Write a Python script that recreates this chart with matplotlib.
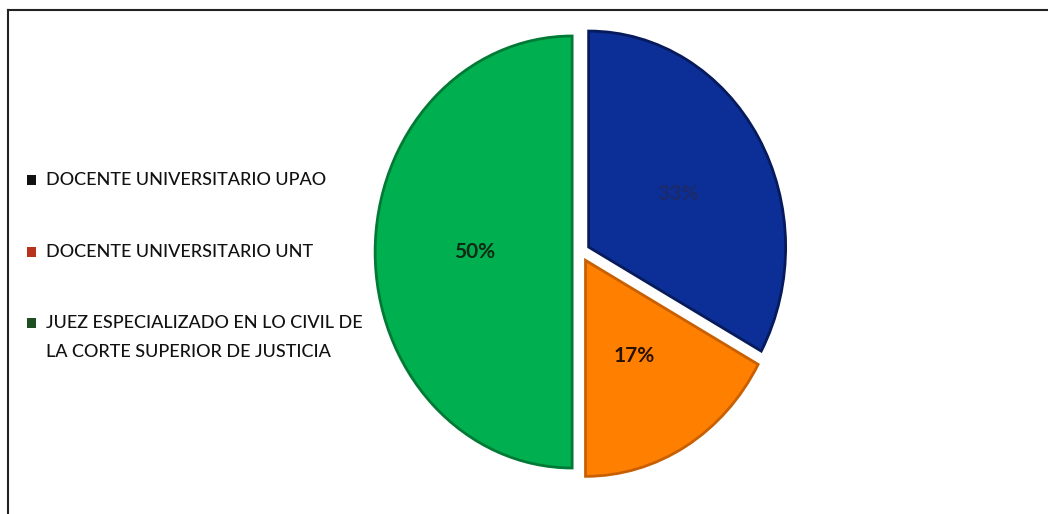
import matplotlib
matplotlib.use("Agg")
import matplotlib.pyplot as plt
from matplotlib.patches import Rectangle
from matplotlib.lines import Line2D

plt.rcParams['font.family'] = ['Lato', 'DejaVu Sans']

# data
labels = ["DOCENTE UNIVERSITARIO UPAO",
          "DOCENTE UNIVERSITARIO UNT",
          "JUEZ ESPECIALIZADO EN LO CIVIL DE\nLA CORTE SUPERIOR DE JUSTICIA"]
values = [33, 17, 50]
pct_labels = ["33%", "17%", "50%"]

slice_colors = ["#0b2f96", "#ff8000", "#00b050"]
edge_colors = ["#061a5c", "#c85f00", "#007a35"]
text_colors = ["#1c2a6a", "#2a1200", "#0f2a14"]
legend_colors = ["#111111", "#b8321c", "#1d4f23"]

W, H = 1048, 514
fig = plt.figure(figsize=(W / 100, H / 100), dpi=100)

# pie centre ~ (581, 262 from bottom), rx ~197 px, ry ~216 px
cx, cy, rx, ry = 581, 262, 197, 216
xl, yl = 1.2, 1.15
ax = fig.add_axes([(cx - xl * rx) / W, (cy - yl * ry) / H, 2 * xl * rx / W, 2 * yl * ry / H])

wedges, _ = ax.pie(values, colors=slice_colors, startangle=90, counterclock=False,
                   explode=[0.045, 0.045, 0.045],
                   wedgeprops=dict(linewidth=2.0))
for w, ec in zip(wedges, edge_colors):
    w.set_edgecolor(ec)
ax.set_aspect('auto')
ax.set_xlim(-xl, xl)
ax.set_ylim(-yl, yl)

# percentage labels
label_pos = [(0.49, 0.27), (0.27, -0.48), (-0.54, 0.0)]
for (x, y), t, c in zip(label_pos, pct_labels, text_colors):
    ax.text(x, y, t, ha='center', va='center', fontsize=15, fontweight='bold', color=c)

# legend (drawn by hand: marker sits on the first line of each entry)
row_y = [180, 252, 323]
line_gap = 29
for y, lab, c in zip(row_y, labels, legend_colors):
    fig.add_artist(Rectangle((27 / W, 1 - (y + 5) / H), 9 / W, 10 / H,
                             transform=fig.transFigure, facecolor=c, edgecolor='none'))
    for i, line in enumerate(lab.split("\n")):
        fig.text(46 / W, 1 - (y + i * line_gap) / H, line, ha='left', va='center',
                 fontsize=13, fontweight='medium', color='#111111')

# top and left border lines
fig.add_artist(Line2D([7.5 / W, 7.5 / W], [0, 1 - 9.5 / H], color='#222222', lw=1.5))
fig.add_artist(Line2D([7.5 / W, 1], [1 - 9.5 / H, 1 - 9.5 / H], color='#222222', lw=1.5))

fig.savefig("out.png", dpi=100, facecolor='white')
